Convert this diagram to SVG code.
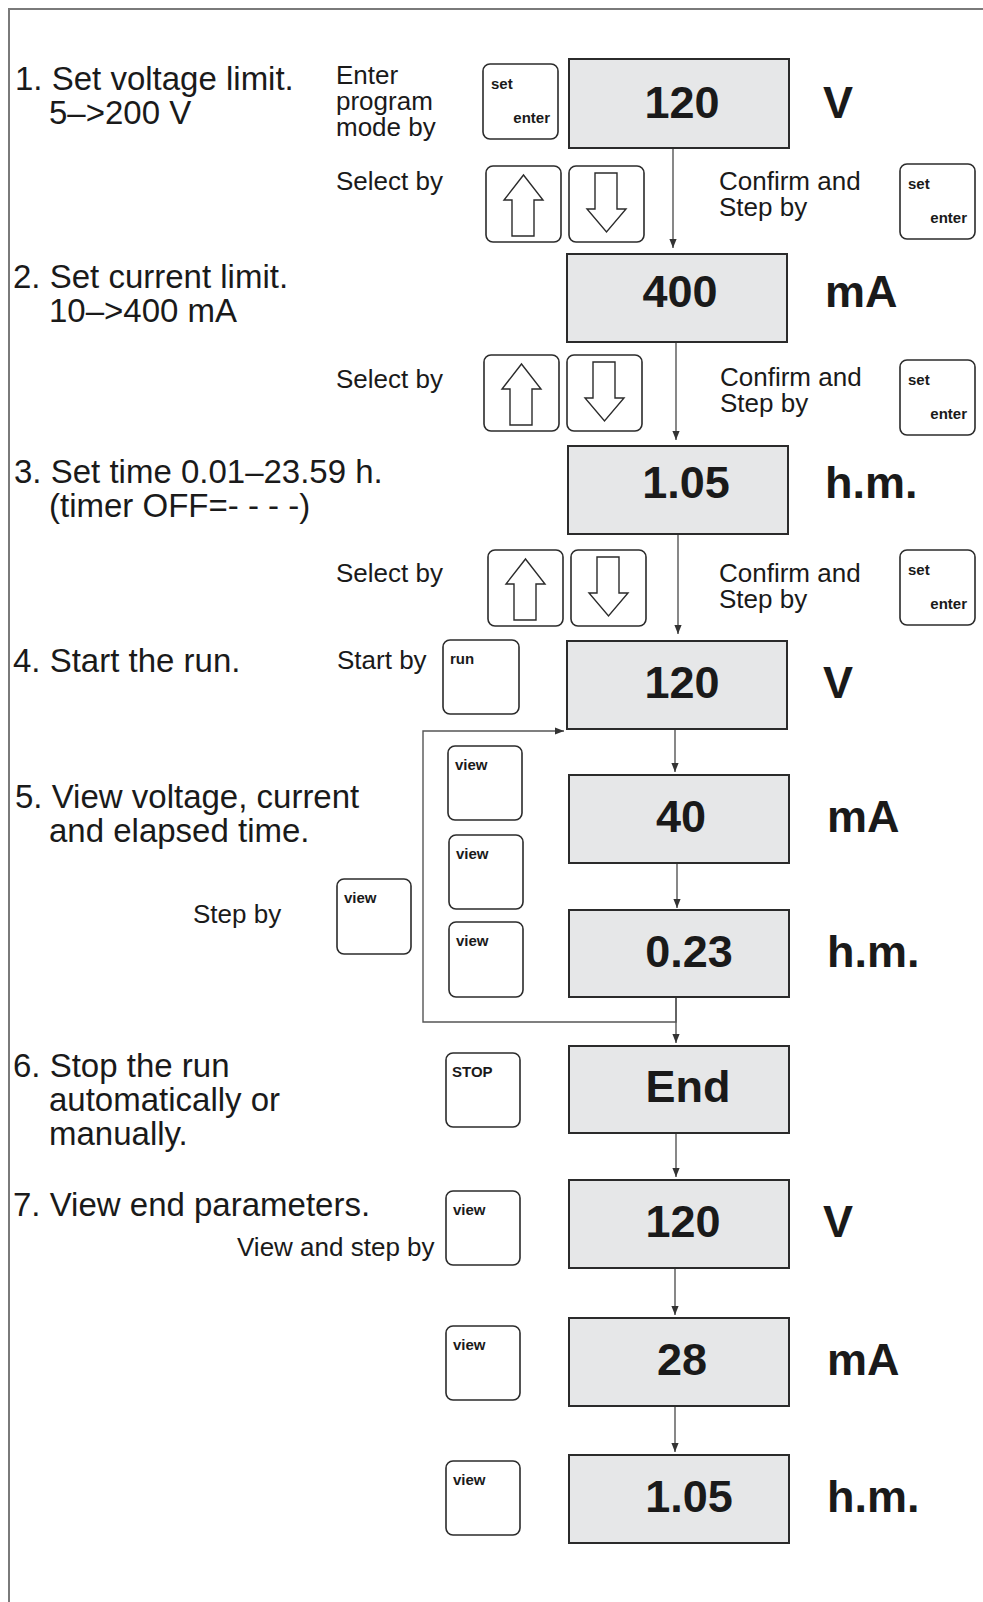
<svg xmlns="http://www.w3.org/2000/svg" width="983" height="1602" viewBox="0 0 983 1602">
<style>
.frame{stroke:#7a7a7a;stroke-width:2;fill:none}
.disp{fill:#e6e7e8;stroke:#2b2b2b;stroke-width:2}
.btn{fill:#fff;stroke:#2b2b2b;stroke-width:1.6}
.arr{fill:#fff;stroke:#2b2b2b;stroke-width:1.4;stroke-linejoin:miter}
.conn{stroke:#555;stroke-width:1.4;fill:none}
.t{font-family:"Liberation Sans",Arial,sans-serif;fill:#1a1a1a}
.big{font-size:33px}
.mid{font-size:26px}
.val{font-size:45px;font-weight:bold;text-anchor:middle}
.unit{font-size:45px;font-weight:bold}
.lbl{font-size:15px;font-weight:bold}
.end{text-anchor:end}
</style>
<defs>
<marker id="ah" viewBox="0 0 10 10" refX="10" refY="5" markerWidth="9" markerHeight="9" markerUnits="userSpaceOnUse" orient="auto">
<path d="M0,1 L10,5 L0,9 Z" fill="#333"/>
</marker>
<g id="setenter">
<rect class="btn" x="0" y="0" width="75" height="75" rx="7"/>
<text class="t lbl" x="8" y="25">set</text>
<text class="t lbl end" x="67" y="59">enter</text>
</g>
<g id="upbtn">
<rect class="btn" x="0" y="0" width="75" height="76" rx="7"/>
<path class="arr" d="M37.5,9 L57,34 L48,34 L48,70 L26,70 L26,34 L18,34 Z"/>
</g>
<g id="downbtn">
<rect class="btn" x="0" y="0" width="75" height="76" rx="7"/>
<path class="arr" d="M26,7 L48,7 L48,43 L57,43 L37.5,66 L18,43 L26,43 Z"/>
</g>
</defs>
<rect width="983" height="1602" fill="#fff"/>
<path class="frame" d="M9,1602 L9,9 L983,9"/>

<g id="connectors">
<line class="conn" x1="673" y1="148" x2="673" y2="248" marker-end="url(#ah)"/>
<line class="conn" x1="676" y1="342" x2="676" y2="440" marker-end="url(#ah)"/>
<line class="conn" x1="678" y1="534" x2="678" y2="634" marker-end="url(#ah)"/>
<line class="conn" x1="675" y1="729" x2="675" y2="772" marker-end="url(#ah)"/>
<line class="conn" x1="677" y1="863" x2="677" y2="908" marker-end="url(#ah)"/>
<line class="conn" x1="676" y1="997" x2="676" y2="1043" marker-end="url(#ah)"/>
<path class="conn" d="M676,997 L676,1022 L423,1022 L423,731 L564,731" marker-end="url(#ah)"/>
<line class="conn" x1="676" y1="1133" x2="676" y2="1177" marker-end="url(#ah)"/>
<line class="conn" x1="675" y1="1268" x2="675" y2="1315" marker-end="url(#ah)"/>
<line class="conn" x1="675" y1="1406" x2="675" y2="1452" marker-end="url(#ah)"/>
</g>

<g id="step1">
<text class="t big" x="15" y="90">1. Set voltage limit.</text>
<text class="t big" x="49" y="124">5–&gt;200 V</text>
<text class="t mid" x="336" y="84">Enter</text>
<text class="t mid" x="336" y="110">program</text>
<text class="t mid" x="336" y="136">mode by</text>
<text class="t mid" x="336" y="190">Select by</text>
<text class="t mid" x="719" y="190">Confirm and</text>
<text class="t mid" x="719" y="216">Step by</text>
</g>
<g id="btn-set1"><use href="#setenter" x="483" y="64"/></g>
<g id="btn-up1"><use href="#upbtn" x="486" y="166"/></g>
<g id="btn-down1"><use href="#downbtn" x="569" y="166"/></g>
<g id="btn-confirm1"><use href="#setenter" x="900" y="164"/></g>
<g id="disp1">
<rect class="disp" x="569" y="59" width="220" height="89"/>
<text class="t val" x="682" y="118">120</text>
<text class="t unit" x="823" y="118">V</text>
</g>

<g id="step2">
<text class="t big" x="13" y="288">2. Set current limit.</text>
<text class="t big" x="49" y="322">10–&gt;400 mA</text>
<text class="t mid" x="336" y="388">Select by</text>
<text class="t mid" x="720" y="386">Confirm and</text>
<text class="t mid" x="720" y="412">Step by</text>
</g>
<g id="btn-up2"><use href="#upbtn" x="484" y="355"/></g>
<g id="btn-down2"><use href="#downbtn" x="567" y="355"/></g>
<g id="btn-confirm2"><use href="#setenter" x="900" y="360"/></g>
<g id="disp2">
<rect class="disp" x="567" y="254" width="220" height="88"/>
<text class="t val" x="680" y="307">400</text>
<text class="t unit" x="825" y="307">mA</text>
</g>

<g id="step3">
<text class="t big" x="14" y="483">3. Set time 0.01–23.59 h.</text>
<text class="t big" x="49" y="517">(timer OFF=- - - -)</text>
<text class="t mid" x="336" y="582">Select by</text>
<text class="t mid" x="719" y="582">Confirm and</text>
<text class="t mid" x="719" y="608">Step by</text>
</g>
<g id="btn-up3"><use href="#upbtn" x="488" y="550"/></g>
<g id="btn-down3"><use href="#downbtn" x="571" y="550"/></g>
<g id="btn-confirm3"><use href="#setenter" x="900" y="550"/></g>
<g id="disp3">
<rect class="disp" x="568" y="446" width="220" height="88"/>
<text class="t val" x="686" y="498">1.05</text>
<text class="t unit" x="825" y="498">h.m.</text>
</g>

<g id="step4">
<text class="t big" x="13" y="672">4. Start the run.</text>
<text class="t mid" x="337" y="669">Start by</text>
</g>
<g id="btn-run">
<rect class="btn" x="443" y="640" width="76" height="74" rx="7"/>
<text class="t lbl" x="450" y="664">run</text>
</g>
<g id="disp4">
<rect class="disp" x="567" y="641" width="220" height="88"/>
<text class="t val" x="682" y="698">120</text>
<text class="t unit" x="823" y="698">V</text>
</g>

<g id="step5">
<text class="t big" x="15" y="808">5. View voltage, current</text>
<text class="t big" x="49" y="842">and elapsed time.</text>
<text class="t mid" x="193" y="923">Step by</text>
</g>
<g id="btn-view-step">
<rect class="btn" x="337" y="879" width="74" height="75" rx="7"/>
<text class="t lbl" x="344" y="903">view</text>
</g>
<g id="btn-view5a">
<rect class="btn" x="448" y="746" width="74" height="74" rx="7"/>
<text class="t lbl" x="455" y="770">view</text>
</g>
<g id="btn-view5b">
<rect class="btn" x="449" y="835" width="74" height="74" rx="7"/>
<text class="t lbl" x="456" y="859">view</text>
</g>
<g id="btn-view5c">
<rect class="btn" x="449" y="922" width="74" height="75" rx="7"/>
<text class="t lbl" x="456" y="946">view</text>
</g>
<g id="disp5">
<rect class="disp" x="569" y="775" width="220" height="88"/>
<text class="t val" x="681" y="832">40</text>
<text class="t unit" x="827" y="832">mA</text>
</g>
<g id="disp6">
<rect class="disp" x="569" y="910" width="220" height="87"/>
<text class="t val" x="689" y="967">0.23</text>
<text class="t unit" x="827" y="967">h.m.</text>
</g>

<g id="step6">
<text class="t big" x="13" y="1077">6. Stop the run</text>
<text class="t big" x="49" y="1111">automatically or</text>
<text class="t big" x="49" y="1145">manually.</text>
</g>
<g id="btn-stop">
<rect class="btn" x="446" y="1053" width="74" height="74" rx="7"/>
<text class="t lbl" x="452" y="1077">STOP</text>
</g>
<g id="disp7">
<rect class="disp" x="569" y="1046" width="220" height="87"/>
<text class="t val" x="688" y="1102">End</text>
</g>

<g id="step7">
<text class="t big" x="13" y="1216">7. View end parameters.</text>
<text class="t mid" x="237" y="1256">View and step by</text>
</g>
<g id="btn-view7a">
<rect class="btn" x="446" y="1191" width="74" height="74" rx="7"/>
<text class="t lbl" x="453" y="1215">view</text>
</g>
<g id="btn-view7b">
<rect class="btn" x="446" y="1326" width="74" height="74" rx="7"/>
<text class="t lbl" x="453" y="1350">view</text>
</g>
<g id="btn-view7c">
<rect class="btn" x="446" y="1461" width="74" height="74" rx="7"/>
<text class="t lbl" x="453" y="1485">view</text>
</g>
<g id="disp8">
<rect class="disp" x="569" y="1180" width="220" height="88"/>
<text class="t val" x="683" y="1237">120</text>
<text class="t unit" x="823" y="1237">V</text>
</g>
<g id="disp9">
<rect class="disp" x="569" y="1318" width="220" height="88"/>
<text class="t val" x="682" y="1375">28</text>
<text class="t unit" x="827" y="1375">mA</text>
</g>
<g id="disp10">
<rect class="disp" x="569" y="1455" width="220" height="88"/>
<text class="t val" x="689" y="1512">1.05</text>
<text class="t unit" x="827" y="1512">h.m.</text>
</g>
</svg>
